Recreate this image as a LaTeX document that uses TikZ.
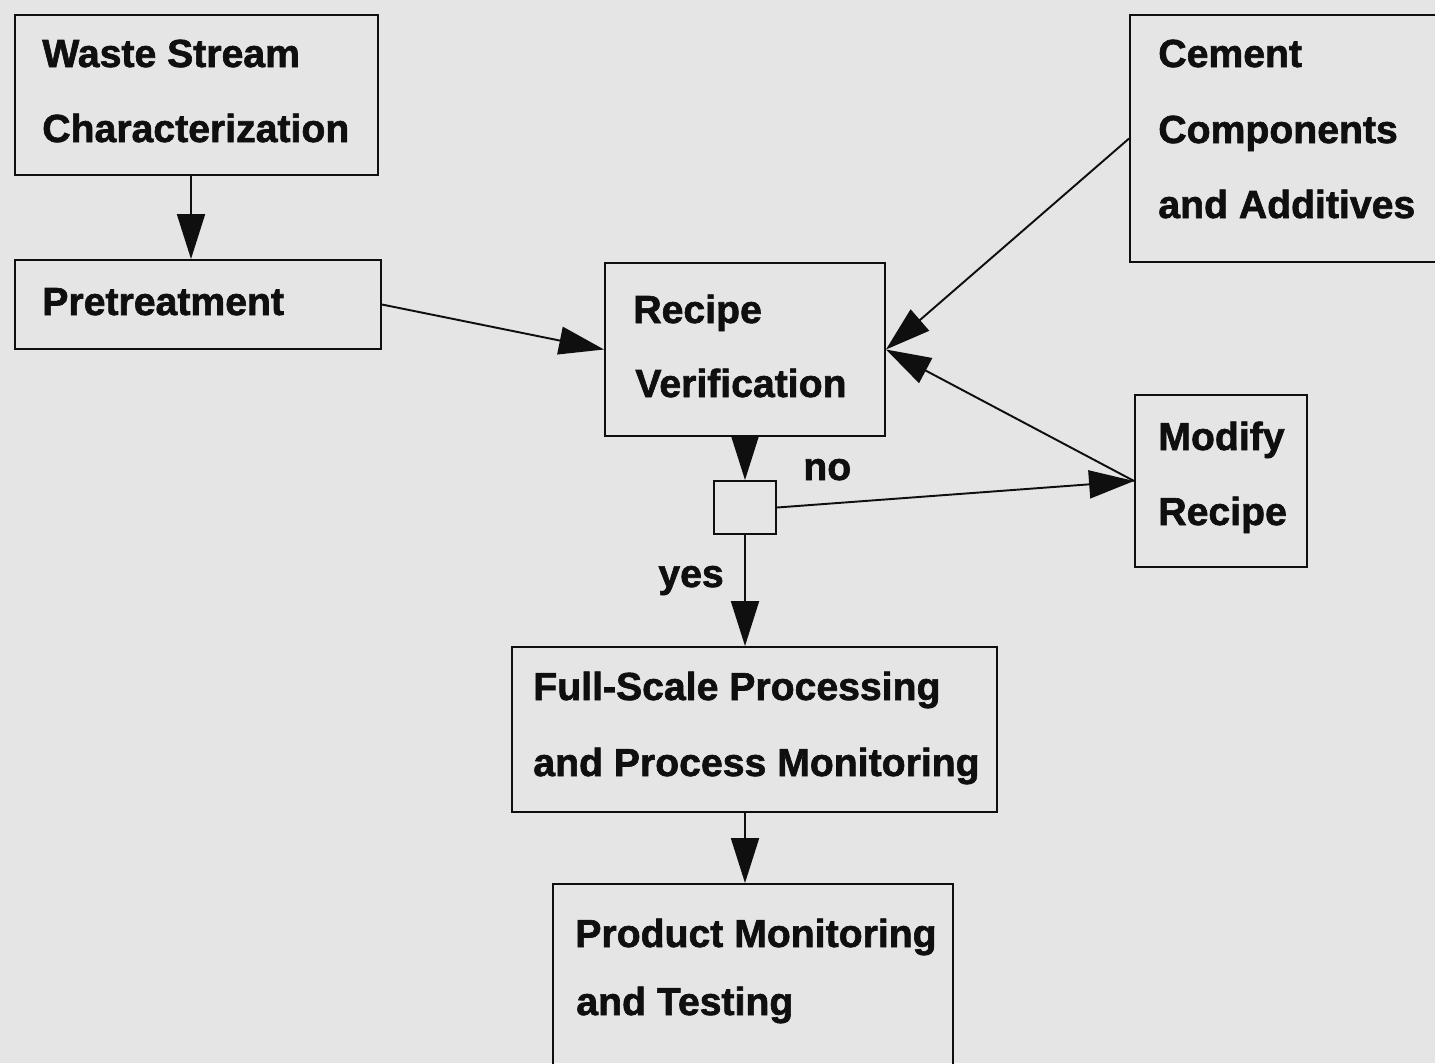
\documentclass[tikz,border=0pt]{standalone}
\usepackage{fontspec}
\setmainfont{Liberation Sans}[BoldFeatures={FakeBold=1.6}]
\usetikzlibrary{arrows.meta}
\definecolor{bg}{RGB}{229,229,229}
\definecolor{ink}{RGB}{15,15,15}
\begin{document}
\begin{tikzpicture}[x=0.02cm,y=-0.02cm,
  box/.style={draw=ink,line width=1.1pt,rectangle,inner sep=0pt},
  txt/.style={anchor=base west,inner sep=0pt,text=ink,font=\fontsize{22.3}{26}\selectfont\bfseries},
  arr/.style={draw=ink,line width=1.1pt,-{Triangle[length=0.9cm,width=0.56cm]}}]
\fill[bg] (0,0) rectangle (1435,1063);
\useasboundingbox (0,0) rectangle (1435,1063);
% boxes
\node[box,minimum width=363*0.02cm,minimum height=160*0.02cm] (ws) at (196.5,95) {};
\node[box,minimum width=366*0.02cm,minimum height=89*0.02cm] (pre) at (198,304.5) {};
\node[box,minimum width=280*0.02cm,minimum height=173*0.02cm] (rv) at (745,349.5) {};
\node[box,minimum width=330*0.02cm,minimum height=247*0.02cm] (cc) at (1295,138.5) {};
\node[box,minimum width=172*0.02cm,minimum height=172*0.02cm] (mr) at (1221,481) {};
\node[box,minimum width=62*0.02cm,minimum height=53*0.02cm] (dec) at (745,507.5) {};
\node[box,minimum width=485*0.02cm,minimum height=165*0.02cm] (fs) at (754.5,729.5) {};
\node[box,minimum width=400*0.02cm,minimum height=220*0.02cm] (pm) at (753,994) {};
% texts
\node[txt] (t1) at (42,67) {Waste Stream};
\node[txt] (t2) at (42,142) {Characterization};
\node[txt] (t3) at (42,315) {Pretreatment};
\node[txt] (t4) at (633,323) {Recipe};
\node[txt] (t5) at (635,397) {Verification};
\node[txt] (t6) at (1158,67) {Cement};
\node[txt] (t7) at (1158,143) {Components};
\node[txt] (t8) at (1158,218) {and Additives};
\node[txt] (t9) at (1158,450) {Modify};
\node[txt] (t10) at (1158,525) {Recipe};
\node[txt] (no) at (803,480) {no};
\node[txt] (yes) at (658,587) {yes};
\node[txt] (t11) at (533,700) {Full-Scale Processing};
\node[txt] (t12) at (533,776) {and Process Monitoring};
\node[txt] (t13) at (575,947) {Product Monitoring};
\node[txt] (t14) at (576,1015) {and Testing};
% connectors
\draw[arr] ([xshift=-0.11cm]ws.south) -- ([xshift=-0.11cm]ws.south |- pre.north);
\draw[arr] (pre.east) -- (rv.west);
\draw[arr] (cc.west) -- (rv.east);
\draw[arr] (mr.west) -- (rv.east);
\draw[arr] (rv.south -| dec.north) -- (dec.north);
\draw[arr] (dec.east) -- (mr.west);
\draw[arr] (dec.south) -- (dec.south |- fs.north);
\draw[arr] (dec.south |- fs.south) -- (dec.south |- pm.north);
\end{tikzpicture}
\end{document}
